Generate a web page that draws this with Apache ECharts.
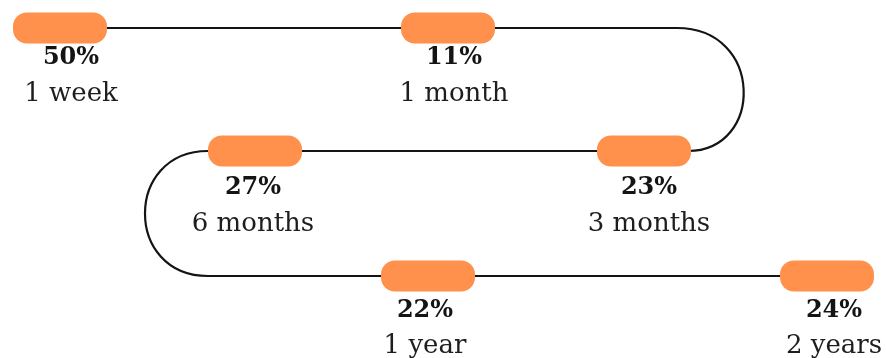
<!DOCTYPE html>
<html>
<head>
<meta charset="utf-8">
<style>
  html, body { margin: 0; padding: 0; background: #ffffff; }
  #chart { width: 886px; height: 358px; }
</style>
<script src="https://cdn.jsdelivr.net/npm/echarts@6/dist/echarts.min.js"></script>
</head>
<body>
<div id="chart"></div>
<script>
// Timeline stages and the share reported at each one
const stages = ['1 week', '1 month', '3 months', '6 months', '1 year', '2 years'];
const shares = [50, 11, 23, 27, 22, 24];

// Snake layout: three rows, two stops per row, alternating direction
const rowY = [28, 151, 276];
const rowOf = [0, 0, 1, 1, 2, 2];
const stopX = [60, 448, 644, 255, 428, 827];
const textDx = [11, 6, 5, -2, -3, 7];
const pctDy = [30, 37, 35];
const nameDy = [66, 73, 70];

const PILL_W = 94, PILL_H = 31;
const ORANGE = '#FF914D';
const INK = '#141414';

const chart = echarts.init(document.getElementById('chart'), null, { renderer: 'canvas' });

const stops = stages.map((s, i) => [stopX[i], rowY[rowOf[i]], shares[i], s, i]);

chart.setOption({
  animation: false,
  grid: { left: 0, right: 0, top: 0, bottom: 0 },
  xAxis: { type: 'value', min: 0, max: 886, show: false },
  yAxis: { type: 'value', min: 0, max: 358, inverse: true, show: false },
  series: [
    {
      // connecting track with rounded turns at the row ends
      type: 'custom',
      coordinateSystem: 'cartesian2d',
      silent: true,
      data: [[0, 0]],
      renderItem: function (params, api) {
        const c = (x, y) => api.coord([x, y]);
        const a = c(stopX[0], rowY[0]);
        const b = c(677, rowY[0]);
        const b1 = c(764, rowY[0]);
        const b2 = c(764, rowY[1]);
        const d = c(688, rowY[1]);
        const e = c(208, rowY[1]);
        const e1 = c(124, rowY[1]);
        const e2 = c(124, rowY[2]);
        const f = c(208, rowY[2]);
        const g = c(stopX[5], rowY[2]);
        const path =
          'M' + a[0] + ' ' + a[1] +
          ' L' + b[0] + ' ' + b[1] +
          ' C' + b1[0] + ' ' + b1[1] + ' ' + b2[0] + ' ' + b2[1] + ' ' + d[0] + ' ' + d[1] +
          ' L' + e[0] + ' ' + e[1] +
          ' C' + e1[0] + ' ' + e1[1] + ' ' + e2[0] + ' ' + e2[1] + ' ' + f[0] + ' ' + f[1] +
          ' L' + g[0] + ' ' + g[1];
        return {
          type: 'path',
          shape: { pathData: path },
          style: { fill: null, stroke: INK, lineWidth: 2.2 }
        };
      }
    },
    {
      // stops: orange pill, bold share, stage name
      type: 'custom',
      coordinateSystem: 'cartesian2d',
      silent: true,
      data: stops,
      renderItem: function (params, api) {
        const i = api.value(4);
        const p = api.coord([api.value(0), api.value(1)]);
        const row = rowOf[i];
        return {
          type: 'group',
          children: [
            {
              type: 'rect',
              shape: { x: p[0] - PILL_W / 2, y: p[1] - PILL_H / 2, width: PILL_W, height: PILL_H, r: 14 },
              style: { fill: ORANGE }
            },
            {
              type: 'text',
              style: {
                text: api.value(2) + '%',
                x: p[0] + textDx[i],
                y: p[1] + pctDy[row],
                align: 'center',
                verticalAlign: 'middle',
                fontFamily: 'DejaVu Serif',
                fontWeight: 'bold',
                fontSize: 24,
                fill: INK
              }
            },
            {
              type: 'text',
              style: {
                text: stages[i],
                x: p[0] + textDx[i],
                y: p[1] + nameDy[row],
                align: 'center',
                verticalAlign: 'middle',
                fontFamily: 'DejaVu Serif',
                fontSize: 26,
                fill: '#1e1e1e'
              }
            }
          ]
        };
      }
    }
  ]
});
</script>
</body>
</html>
